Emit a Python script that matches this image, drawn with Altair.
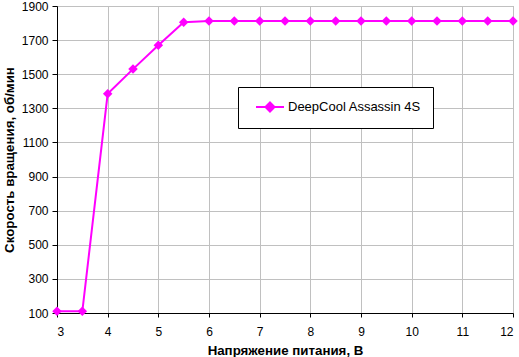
import altair as alt
import pandas as pd

volts = [3, 3.5, 4, 4.5, 5, 5.5, 6, 6.5, 7, 7.5, 8, 8.5, 9, 9.5, 10, 10.5, 11, 11.5, 12]
rpm = [110, 110, 1385, 1530, 1670, 1805, 1812, 1812, 1812, 1812, 1812, 1812,
       1812, 1812, 1812, 1812, 1812, 1812, 1812]
series_name = "DeepCool Assassin 4S"
x_ticks = [3, 4, 5, 6, 7, 8, 9, 10, 11, 12]
y_ticks = [100, 300, 500, 700, 900, 1100, 1300, 1500, 1700, 1900]

df = pd.DataFrame({"V": volts, "RPM": rpm, "series": [series_name] * len(volts)})

FONT = "Liberation Sans"
MAG = "#ff00ff"

color = alt.Color(
    "series:N",
    scale=alt.Scale(domain=[series_name], range=[MAG]),
    legend=alt.Legend(
        title=None,
        orient="none",
        legendX=181,
        legendY=81,
        strokeColor="black",
        fillColor="white",
        padding=12,
        cornerRadius=0,
        symbolType="M-2,0L2,0M0,-0.65L0.65,0L0,0.65L-0.65,0Z",
        symbolSize=196,
        symbolStrokeWidth=2,
        symbolFillColor=MAG,
        symbolStrokeColor=MAG,
        symbolOpacity=1,
        symbolOffset=12,
        labelOffset=10,
        labelFontSize=13,
        labelFont=FONT,
        labelColor="black",
    ),
)

x = alt.X(
    "V:Q",
    scale=alt.Scale(domain=[3, 12], nice=False, zero=False),
    axis=alt.Axis(values=x_ticks, format="d", title="Напряжение питания, В",
                  tickSize=4, labelPadding=9, titlePadding=6),
)
y = alt.Y(
    "RPM:Q",
    scale=alt.Scale(domain=[100, 1900], nice=False, zero=False),
    axis=alt.Axis(values=y_ticks, format="d", title="Скорость вращения, об/мин",
                  tickSize=5, labelPadding=4, titlePadding=5),
)

line = alt.Chart(df).mark_line(strokeWidth=2).encode(x=x, y=y, color=color)
pts = alt.Chart(df).mark_point(shape="diamond", filled=True, size=90, opacity=1).encode(
    x=x, y=y, color=color
)

chart = (
    alt.layer(line, pts)
    .properties(
        width=456,
        height=307,
        autosize=alt.AutoSizeParams(type="none"),
        padding={"left": 57, "top": 6, "right": 6, "bottom": 44},
        background="white",
    )
    .configure_axis(
        domainColor="black",
        tickColor="black",
        gridColor="#c0c0c0",
        gridOpacity=1,
        labelFont=FONT,
        labelFontSize=12,
        labelColor="black",
        titleFont=FONT,
        titleFontSize=13.3,
        titleFontWeight="bold",
        titleColor="black",
    )
    .configure_view(stroke="#a0a0a0")
)

chart.save("out.html", embed_options={"renderer": "svg", "actions": False})
